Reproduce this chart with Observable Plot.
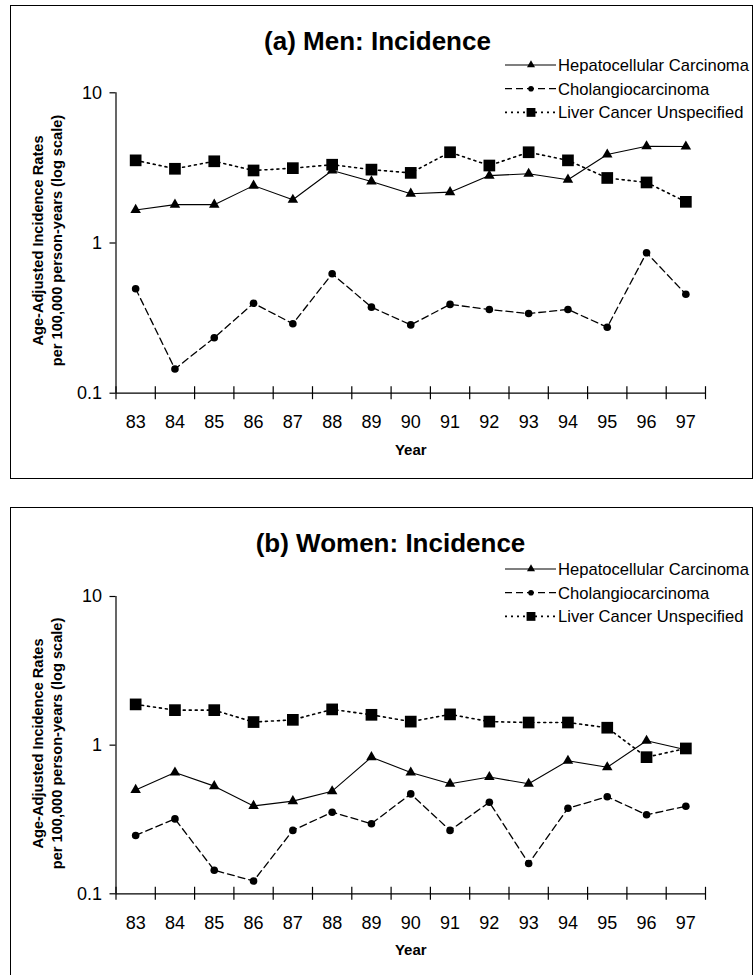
<!DOCTYPE html>
<html>
<head>
<meta charset="utf-8">
<script src="https://cdn.jsdelivr.net/npm/d3@7"></script>
<script src="https://cdn.jsdelivr.net/npm/@observablehq/plot@0.6"></script>
<style>
  html, body { margin: 0; padding: 0; background: #fff; }
  #page { position: relative; width: 755px; height: 975px; overflow: hidden; background: #fff;
          font-family: "Liberation Sans", Arial, sans-serif; }
  .box { position: absolute; border: 1.5px solid #000; box-sizing: border-box; pointer-events: none; }
  .layer { position: absolute; left: 0; }
</style>
</head>
<body>
<div id="page"></div>
<script>
// Calendar years (two-digit labels, 1983–1997)
const years = [83, 84, 85, 86, 87, 88, 89, 90, 91, 92, 93, 94, 95, 96, 97];

// Series names
const seriesNames = ["Hepatocellular Carcinoma", "Cholangiocarcinoma", "Liver Cancer Unspecified"];

// Age-adjusted incidence per 100,000 person-years — men
const menHCC = [1.66, 1.80, 1.80, 2.41, 1.94, 3.04, 2.57, 2.13, 2.18, 2.81, 2.89, 2.64, 3.88, 4.41, 4.39];
const menCC  = [0.496, 0.145, 0.234, 0.397, 0.290, 0.624, 0.374, 0.285, 0.390, 0.361, 0.339, 0.361, 0.275, 0.861, 0.456];
const menLCU = [3.55, 3.12, 3.50, 3.04, 3.15, 3.32, 3.08, 2.93, 4.02, 3.28, 4.02, 3.55, 2.71, 2.53, 1.88];

// Age-adjusted incidence per 100,000 person-years — women
const womenHCC = [0.50, 0.655, 0.53, 0.39, 0.42, 0.49, 0.83, 0.655, 0.55, 0.61, 0.55, 0.785, 0.71, 1.07, 0.93];
const womenCC  = [0.247, 0.319, 0.144, 0.122, 0.267, 0.354, 0.296, 0.470, 0.267, 0.413, 0.160, 0.376, 0.450, 0.340, 0.388];
const womenLCU = [1.88, 1.72, 1.72, 1.43, 1.48, 1.74, 1.60, 1.44, 1.61, 1.44, 1.42, 1.42, 1.31, 0.83, 0.95];

// Log-axis tick values
const yTicks = [0.1, 1, 10];

// Axis titles
const yTitle1 = "Age-Adjusted Incidence Rates";
const yTitle2 = "per 100,000 person-years (log scale)";
const xTitle = "Year";

const FONT = "'Liberation Sans', Arial, Helvetica, sans-serif";

// Line/marker styling for each series
const styles = [
  {dash: null,  width: 1.1, symbol: "triangle", r: 3.9, legendR: 3.0},
  {dash: "7,4", width: 1.3, symbol: "circle",   r: 3.8, legendR: 2.8},
  {dash: "2,4", width: 1.6, symbol: "square",   r: 6.6, legendR: 5.0}
];

// Tick marks sit on the boundaries between year categories
const boundaries = [years[0] - 0.5, ...years.map(y => y + 0.5)];

function drawPanel({title, titleDx, titleDy, values, top, height, marginTop, marginBottom, yTitleDy, boxTop, boxHeight, legendTop}) {
  const page = document.getElementById("page");

  const box = document.createElement("div");
  box.className = "box";
  Object.assign(box.style, {left: "10px", top: boxTop + "px", width: "743px", height: boxHeight + "px"});

  const series = values.map((vals, k) => years.map((y, i) => ({year: y, value: vals[i], series: seriesNames[k]})));

  const lineMarks = series.map((rows, k) => Plot.line(rows, {
    x: "year", y: "value", stroke: "black", strokeWidth: styles[k].width,
    strokeDasharray: styles[k].dash || undefined, strokeLinejoin: "round"
  }));
  const dotMarks = series.map((rows, k) => Plot.dot(rows, {
    x: "year", y: "value", symbol: styles[k].symbol, r: styles[k].r, fill: "black", stroke: "none"
  }));

  const chart = Plot.plot({
    width: 755,
    height,
    marginLeft: 115.5,
    marginRight: 50,
    marginTop,
    marginBottom,
    style: {fontFamily: FONT, background: "transparent", overflow: "visible", color: "black"},
    x: {type: "linear", domain: [boundaries[0], boundaries[boundaries.length - 1]]},
    y: {type: "log", domain: [yTicks[0], yTicks[yTicks.length - 1]]},
    marks: [
      Plot.ruleX([boundaries[0]], {stroke: "black", strokeWidth: 1.2}),
      Plot.ruleY([yTicks[0]], {stroke: "black", strokeWidth: 1.2}),
      Plot.axisY({ticks: yTicks, tickFormat: d => String(d), tickSize: 6, tickPadding: 8,
                  fontSize: 18, label: null, strokeWidth: 1.2}),
      Plot.axisX({ticks: boundaries, tickSize: 13, dy: -6.5, tickFormat: () => "", label: null, strokeWidth: 1.2}),
      Plot.axisX({ticks: years, tickSize: 0, tickPadding: 22.5, fontSize: 18,
                  tickFormat: d => String(d), label: null}),
      ...lineMarks,
      ...dotMarks,
      Plot.text([title], {frameAnchor: "top", lineAnchor: "middle", textAnchor: "middle",
                          dx: titleDx, dy: titleDy, fontSize: 26, fontWeight: "bold", fill: "black"}),
      Plot.text([yTitle1], {frameAnchor: "left", rotate: -90, textAnchor: "middle", lineAnchor: "middle",
                            dx: 38 - 115.5, dy: yTitleDy, fontSize: 14.6, fontWeight: "bold", fill: "black"}),
      Plot.text([yTitle2], {frameAnchor: "left", rotate: -90, textAnchor: "middle", lineAnchor: "middle",
                            dx: 56.5 - 115.5, dy: yTitleDy, fontSize: 14.6, fontWeight: "bold", fill: "black"}),
      Plot.text([xTitle], {frameAnchor: "bottom", lineAnchor: "middle", textAnchor: "middle",
                           dy: 56.5, fontSize: 15, fontWeight: "bold", fill: "black"})
    ]
  });

  const layer = document.createElement("div");
  layer.className = "layer";
  layer.style.top = top + "px";
  layer.appendChild(chart);
  page.appendChild(layer);

  // Legend: line sample with marker, then label
  const legend = d3.create("svg")
    .attr("width", 755).attr("height", 80)
    .style("position", "absolute").style("left", "0px").style("top", legendTop + "px")
    .style("overflow", "visible");
  seriesNames.forEach((name, k) => {
    const cy = 14 + k * 23.7;
    const g = legend.append("g");
    g.append("line")
      .attr("x1", 505).attr("x2", 556).attr("y1", cy).attr("y2", cy)
      .attr("stroke", "black").attr("stroke-width", styles[k].width)
      .attr("stroke-dasharray", styles[k].dash);
    const sym = {triangle: d3.symbolTriangle, circle: d3.symbolCircle, square: d3.symbolSquare}[styles[k].symbol];
    g.append("path")
      .attr("transform", `translate(531,${cy})`)
      .attr("d", d3.symbol(sym, Math.PI * styles[k].legendR ** 2)())
      .attr("fill", "black");
    g.append("text")
      .attr("x", 558).attr("y", cy).attr("dy", "0.35em")
      .attr("font-family", FONT).attr("font-size", 16.6).attr("fill", "black")
      .text(name);
  });
  page.appendChild(legend.node());
  page.appendChild(box);
}

drawPanel({
  title: "(a) Men: Incidence", titleDx: 377 - 410.25, titleDy: -51.6,
  values: [menHCC, menCC, menLCU],
  top: 0, height: 480, marginTop: 92.3, marginBottom: 87.3, yTitleDy: -2.5,
  boxTop: 5, boxHeight: 474, legendTop: 51
});

drawPanel({
  title: "(b) Women: Incidence", titleDx: 390 - 410.25, titleDy: -52.7,
  values: [womenHCC, womenCC, womenLCU],
  top: 500, height: 475, marginTop: 96, marginBottom: 81.7, yTitleDy: -1.7,
  boxTop: 507, boxHeight: 480, legendTop: 555
});
</script>
</body>
</html>
